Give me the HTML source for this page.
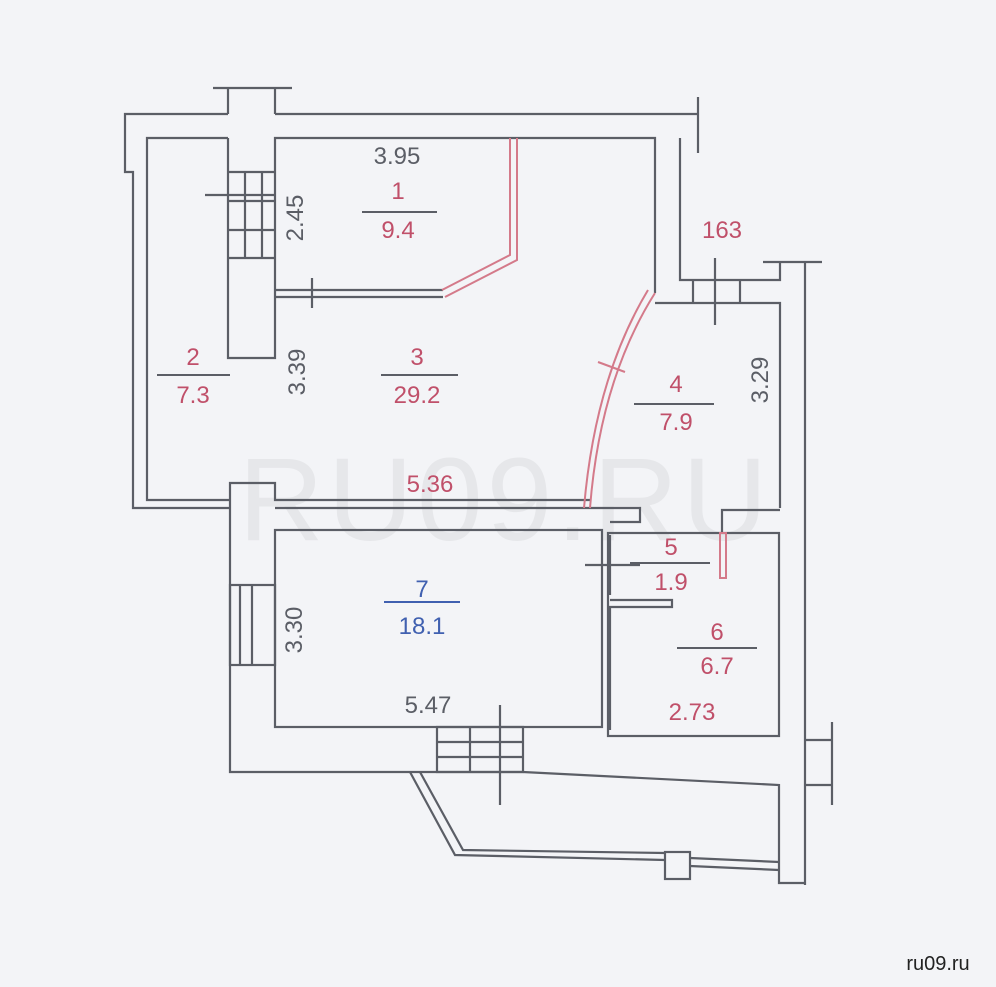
<!DOCTYPE html>
<html><head><meta charset="utf-8"><style>
html,body{margin:0;padding:0;background:#f3f4f7;}
svg{display:block}
text{font-family:"Liberation Sans",sans-serif;}
</style></head><body>
<svg width="996" height="987" viewBox="0 0 996 987" xmlns="http://www.w3.org/2000/svg">
<rect width="996" height="987" fill="#f3f4f7"/>
<text x="505" y="540" font-size="118" fill="#e6e7ea" text-anchor="middle" letter-spacing="4">RU09.RU</text>
<g fill="none" stroke="#5b5e66" stroke-width="2.2">
<polyline points="228,114 125,114 125,172 133,172 133,508 230,508"/>
<line x1="275" y1="114" x2="698" y2="114"/>
<line x1="698" y1="97" x2="698" y2="153"/>
<line x1="213" y1="88" x2="292" y2="88"/>
<line x1="228" y1="88" x2="228" y2="114"/>
<line x1="275" y1="88" x2="275" y2="114"/>
<polyline points="228,138 147,138 147,500 230,500"/>
<polyline points="230,508 230,483 275,483 275,500 590,500"/>
<polyline points="228,138 228,358 275,358 275,138 655,138 655,293"/>
<line x1="228" y1="172" x2="275" y2="172"/>
<line x1="228" y1="201" x2="275" y2="201"/>
<line x1="228" y1="230" x2="275" y2="230"/>
<line x1="228" y1="258" x2="275" y2="258"/>
<line x1="245" y1="172" x2="245" y2="258"/>
<line x1="262" y1="172" x2="262" y2="258"/>
<line x1="205" y1="195" x2="275" y2="195"/>
<line x1="275" y1="290" x2="443" y2="290"/>
<line x1="275" y1="297" x2="443" y2="297"/>
<line x1="312" y1="278" x2="312" y2="308"/>
<polyline points="680,138 680,280 780,280 780,262"/>
<line x1="763" y1="262" x2="822" y2="262"/>
<line x1="805" y1="262" x2="805" y2="885"/>
<polyline points="655,303 780,303 780,508"/>
<line x1="693" y1="280" x2="693" y2="303"/>
<line x1="740" y1="280" x2="740" y2="303"/>
<line x1="715" y1="258" x2="715" y2="325"/>
<polyline points="598,508 640,508 640,522 610,522"/>
<polyline points="275,508 598,508"/>
<polyline points="722,533 722,510 780,510"/>
<rect x="275" y="530" width="327" height="197"/>
<line x1="610" y1="535" x2="610" y2="595"/>
<line x1="585" y1="565" x2="640" y2="565"/>
<polyline points="610,600 672,600 672,607 610,607 610,730"/>
<rect x="608" y="533" width="171" height="203"/>
<polyline points="230,508 230,772 420,772"/>
<rect x="230" y="585" width="45" height="80"/>
<line x1="240" y1="585" x2="240" y2="665"/>
<line x1="252" y1="585" x2="252" y2="665"/>
<rect x="437" y="727" width="86" height="45"/>
<line x1="437" y1="742" x2="523" y2="742"/>
<line x1="437" y1="757" x2="523" y2="757"/>
<line x1="470" y1="727" x2="470" y2="772"/>
<line x1="500" y1="705" x2="500" y2="805"/>
<polyline points="420,772 523,772 779,785 779,883 805,883"/>
<polyline points="410,772 455,855 665,860"/>
<polyline points="420,772 463,850 665,853"/>
<polyline points="690,858 779,862"/>
<polyline points="690,866 779,870"/>
<rect x="665" y="852" width="25" height="27"/>
<polyline points="805,740 832,740"/>
<polyline points="805,785 832,785"/>
<line x1="832" y1="722" x2="832" y2="805"/>
</g>
<g fill="none" stroke="#d47a8a" stroke-width="2">
<polyline points="510,138 510,255 442,290"/>
<polyline points="517,138 517,260 445,297"/>
<path d="M655,293 Q600,380 590,508"/>
<path d="M648,290 Q595,378 584,508"/>
<line x1="598" y1="362" x2="625" y2="372"/>
<rect x="720" y="533" width="6" height="45"/>
</g>
<g font-size="24" text-anchor="middle">
<text x="397" y="164" fill="#5b5e66">3.95</text>
<text x="398" y="199" fill="#c0506a">1</text>
<line x1="362" y1="212" x2="437" y2="212" stroke="#5b5e66" stroke-width="2"/>
<text x="398" y="238" fill="#c0506a">9.4</text>
<text transform="translate(303,218) rotate(-90)" fill="#5b5e66">2.45</text>
<text x="193" y="365" fill="#c0506a">2</text>
<line x1="157" y1="375" x2="230" y2="375" stroke="#5b5e66" stroke-width="2"/>
<text x="193" y="403" fill="#c0506a">7.3</text>
<text transform="translate(305,372) rotate(-90)" fill="#5b5e66">3.39</text>
<text x="417" y="365" fill="#c0506a">3</text>
<line x1="381" y1="375" x2="458" y2="375" stroke="#5b5e66" stroke-width="2"/>
<text x="417" y="403" fill="#c0506a">29.2</text>
<text x="430" y="492" fill="#c0506a">5.36</text>
<text x="722" y="238" fill="#c0506a">163</text>
<text x="676" y="392" fill="#c0506a">4</text>
<line x1="634" y1="404" x2="714" y2="404" stroke="#5b5e66" stroke-width="2"/>
<text x="676" y="430" fill="#c0506a">7.9</text>
<text transform="translate(768,380) rotate(-90)" fill="#5b5e66">3.29</text>
<text x="671" y="555" fill="#c0506a">5</text>
<line x1="630" y1="563" x2="710" y2="563" stroke="#5b5e66" stroke-width="2"/>
<text x="671" y="590" fill="#c0506a">1.9</text>
<text x="422" y="597" fill="#4060b0">7</text>
<line x1="384" y1="602" x2="460" y2="602" stroke="#4060b0" stroke-width="2"/>
<text x="422" y="634" fill="#4060b0">18.1</text>
<text transform="translate(302,630) rotate(-90)" fill="#5b5e66">3.30</text>
<text x="717" y="640" fill="#c0506a">6</text>
<line x1="677" y1="648" x2="757" y2="648" stroke="#5b5e66" stroke-width="2"/>
<text x="717" y="674" fill="#c0506a">6.7</text>
<text x="692" y="720" fill="#c0506a">2.73</text>
<text x="428" y="713" fill="#5b5e66">5.47</text>
</g>
<text x="938" y="970" font-size="20" fill="#222" text-anchor="middle">ru09.ru</text>
</svg>
</body></html>
